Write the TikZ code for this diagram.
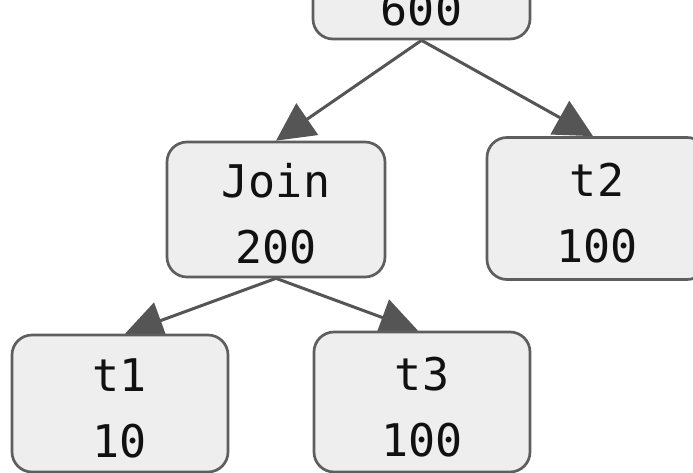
\documentclass[tikz,border=0pt]{standalone}
\usepackage{fontspec}
\newfontfamily\monofont{DejaVu Sans Mono}
\usetikzlibrary{arrows.meta,backgrounds}
\definecolor{boxfill}{HTML}{EEEEEE}
\definecolor{boxline}{HTML}{5E5E5E}
\definecolor{arrowcol}{HTML}{555555}
\definecolor{txtcol}{HTML}{111111}
\newcommand{\lnstrut}{\rule[-9pt]{0pt}{60pt}}
\tikzset{
  planbox/.style={draw=boxline, fill=boxfill, line width=2.7pt, rounded corners=20pt,
    inner sep=0pt, align=center, text=txtcol,
    font=\monofont\fontsize{45}{66}\selectfont},
  conn/.style={draw=arrowcol, line width=3pt, -{Triangle[length=38pt,width=38pt]}}
}
\begin{document}
\begin{tikzpicture}[x=1pt,y=-1pt]
\useasboundingbox (0,0) rectangle (693,473);
\node[planbox, minimum width=217pt, minimum height=135pt] (top) at (421.5,-28.5) {\lnstrut\\\lnstrut 600};
\node[planbox, minimum width=218pt, minimum height=135pt] (join) at (276,209.5) {\lnstrut Join\\\lnstrut 200};
\node[planbox, minimum width=220pt, minimum height=142pt] (t2) at (597,208.5) {\lnstrut t2\\\lnstrut 100};
\node[planbox, minimum width=216pt, minimum height=137pt] (t1) at (120,403.5) {\lnstrut t1\\\lnstrut 10};
\node[planbox, minimum width=216pt, minimum height=140pt] (t3) at (422,402) {\lnstrut t3\\\lnstrut 100};
\begin{pgfonlayer}{background}
\draw[conn] (top.south) -- (join.north);
\draw[conn] (top.south) -- ([xshift=-4pt]t2.north);
\draw[conn] (join.south) -- ([xshift=5pt]t1.north);
\draw[conn] (join.south) -- ([xshift=-4pt]t3.north);
\end{pgfonlayer}
\end{tikzpicture}
\end{document}
